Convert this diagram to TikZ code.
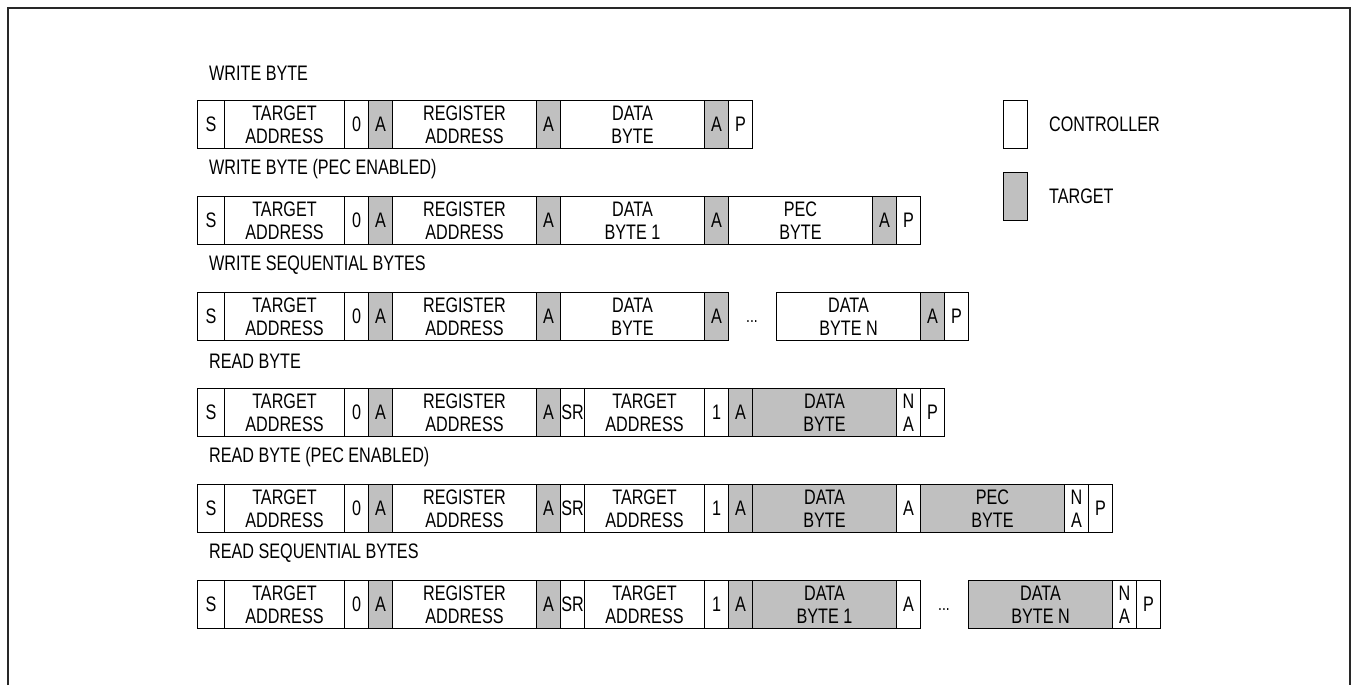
\documentclass[tikz,border=0pt]{standalone}
\usepackage{fontspec}
\setmainfont{Liberation Sans}[FakeStretch=0.77]
\usetikzlibrary{positioning}
\definecolor{targetgray}{RGB}{192,192,192}
\definecolor{framegray}{RGB}{40,40,40}

\begin{document}
\begin{tikzpicture}[
    x=1pt, y=-1pt,
    cell/.style={draw, line width=1pt, anchor=north west, inner sep=0pt, minimum height=48pt, align=center, font=\fontsize{21}{23}\selectfont},
    title/.style={anchor=west, inner sep=0pt, font=\fontsize{21}{23}\selectfont},
    dots/.style={inner sep=0pt, font=\fontsize{18}{20}\selectfont}
]
    \useasboundingbox (0,0) rectangle (1351,685);

    % Frame
    \draw[framegray, line width=1.5pt] (8,685) -- (8,8) -- (1350,8) -- (1350,685);

    % Titles
    \node[title] (t1) at (209,73) {WRITE BYTE};
    \node[title] (t2) at (209,169) {WRITE BYTE (PEC ENABLED)};
    \node[title] (t3) at (209,265) {WRITE SEQUENTIAL BYTES};
    \node[title] (t4) at (209,361) {READ BYTE};
    \node[title] (t5) at (209,457) {READ BYTE (PEC ENABLED)};
    \node[title] (t6) at (209,553) {READ SEQUENTIAL BYTES};

    % Common first part of every row
    \foreach \r/\top in {1/100, 2/196, 3/292, 4/388, 5/484, 6/580} {
        \foreach \xa/\xb/\txt/\f [count=\i] in {197/224/S/white, 224/344/{TARGET\\ADDRESS}/white, 344/368/0/white, 368/392/A/targetgray, 392/536/{REGISTER\\ADDRESS}/white, 536/560/A/targetgray}
            \node[cell, fill=\f, minimum width={(\xb-\xa)*1pt}] (r\r-\i) at (\xa,\top) {\txt};
    }

    % Write byte
    \foreach \xa/\xb/\txt/\f [count=\i from 7] in {560/704/{DATA\\BYTE}/white, 704/728/A/targetgray, 728/752/P/white}
        \node[cell, fill=\f, minimum width={(\xb-\xa)*1pt}] (r1-\i) at (\xa,100) {\txt};

    % Write byte (PEC enabled)
    \foreach \xa/\xb/\txt/\f [count=\i from 7] in {560/704/{DATA\\BYTE 1}/white, 704/728/A/targetgray, 728/872/{PEC\\BYTE}/white, 872/896/A/targetgray, 896/920/P/white}
        \node[cell, fill=\f, minimum width={(\xb-\xa)*1pt}] (r2-\i) at (\xa,196) {\txt};

    % Write sequential bytes
    \foreach \xa/\xb/\txt/\f [count=\i from 7] in {560/704/{DATA\\BYTE}/white, 704/728/A/targetgray, 776/920/{DATA\\BYTE N}/white, 920/944/A/targetgray, 944/968/P/white}
        \node[cell, fill=\f, minimum width={(\xb-\xa)*1pt}] (r3-\i) at (\xa,292) {\txt};
    \node[dots] (r3-dots) at (752,322) {...};

    % Read byte
    \foreach \xa/\xb/\txt/\f [count=\i from 7] in {560/584/SR/white, 584/704/{TARGET\\ADDRESS}/white, 704/728/1/white, 728/752/A/targetgray, 752/896/{DATA\\BYTE}/targetgray, 896/920/{N\\A}/white, 920/944/P/white}
        \node[cell, fill=\f, minimum width={(\xb-\xa)*1pt}] (r4-\i) at (\xa,388) {\txt};

    % Read byte (PEC enabled)
    \foreach \xa/\xb/\txt/\f [count=\i from 7] in {560/584/SR/white, 584/704/{TARGET\\ADDRESS}/white, 704/728/1/white, 728/752/A/targetgray, 752/896/{DATA\\BYTE}/targetgray, 896/920/A/white, 920/1064/{PEC\\BYTE}/targetgray, 1064/1088/{N\\A}/white, 1088/1112/P/white}
        \node[cell, fill=\f, minimum width={(\xb-\xa)*1pt}] (r5-\i) at (\xa,484) {\txt};

    % Read sequential bytes
    \foreach \xa/\xb/\txt/\f [count=\i from 7] in {560/584/SR/white, 584/704/{TARGET\\ADDRESS}/white, 704/728/1/white, 728/752/A/targetgray, 752/896/{DATA\\BYTE 1}/targetgray, 896/920/A/white, 968/1112/{DATA\\BYTE N}/targetgray, 1112/1136/{N\\A}/white, 1136/1160/P/white}
        \node[cell, fill=\f, minimum width={(\xb-\xa)*1pt}] (r6-\i) at (\xa,580) {\txt};
    \node[dots] (r6-dots) at (944,610) {...};

    % Legend
    \node[cell, fill=white, minimum width=24pt] (legctl) at (1003,100) {};
    \node[title] (legctl-txt) at (1049,124) {CONTROLLER};
    \node[cell, fill=targetgray, minimum width=24pt] (legtgt) at (1003,172) {};
    \node[title] (legtgt-txt) at (1049,196) {TARGET};
\end{tikzpicture}
\end{document}
